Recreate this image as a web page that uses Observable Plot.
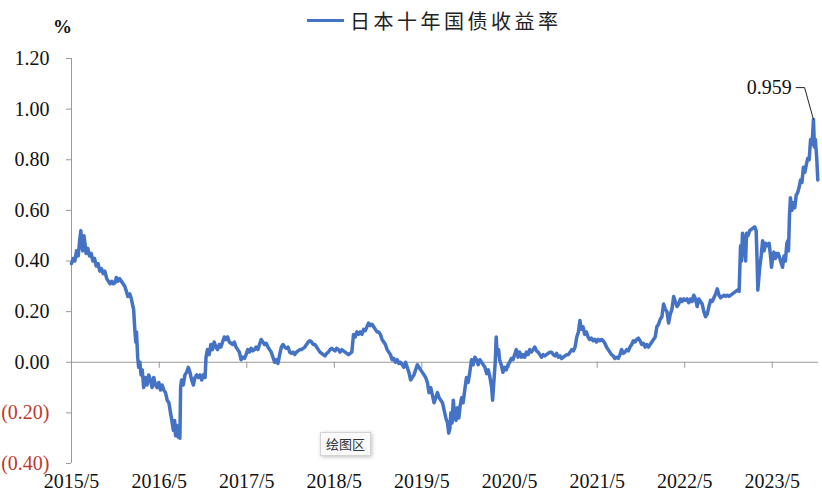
<!DOCTYPE html>
<html><head><meta charset="utf-8">
<script src="https://cdn.jsdelivr.net/npm/d3@7"></script>
<script src="https://cdn.jsdelivr.net/npm/@observablehq/plot@0.6"></script>
<style>
body{margin:0;background:#fff;}
#wrap{position:relative;width:822px;height:500px;overflow:hidden;background:#fff;}
#wrap svg{position:absolute;left:0;top:0;}
.legend{position:absolute;left:307px;top:5px;height:30px;display:flex;align-items:center;font-family:"Noto Sans CJK SC";font-size:20px;letter-spacing:3.5px;color:#222;white-space:nowrap;}
.legend .sw{width:37px;height:3px;background:#4472c4;margin-right:6px;}
.unit{position:absolute;left:53px;top:16px;font-family:"Liberation Serif";font-weight:bold;font-size:19px;color:#111;}
.tip{position:absolute;left:320px;top:432px;width:51px;height:24px;box-sizing:border-box;background:#fafafa;border:1px solid #d4d4d4;box-shadow:1px 1px 4px rgba(0,0,0,0.25);font-family:"Noto Sans CJK SC";font-size:13px;line-height:22px;text-align:center;color:#333;}
</style>
</head><body>
<div id="wrap"></div>
<script>
const legendLabel = "日本十年国债收益率";
const unitLabel = "%";
const tipLabel = "绘图区";
const yTicks = [-0.4, -0.2, 0, 0.2, 0.4, 0.6, 0.8, 1.0, 1.2];
const xTickLabels = ["2015/5","2016/5","2017/5","2018/5","2019/5","2020/5","2021/5","2022/5","2023/5"];
const xDomain = ["2015-05-01", "2023-11-10"];
const jgb10y = [
["2015-05-01",0.39],["2015-05-08",0.41],["2015-05-15",0.40],["2015-05-22",0.44],["2015-05-29",0.42],
["2015-06-04",0.48],["2015-06-09",0.52],["2015-06-12",0.47],["2015-06-17",0.44],["2015-06-22",0.50],
["2015-06-26",0.47],["2015-07-01",0.43],["2015-07-08",0.45],["2015-07-15",0.42],["2015-07-22",0.43],
["2015-07-29",0.40],["2015-08-05",0.41],["2015-08-12",0.38],["2015-08-20",0.39],["2015-08-27",0.36],
["2015-09-03",0.37],["2015-09-10",0.35],["2015-09-17",0.36],["2015-09-25",0.33],["2015-10-02",0.32],
["2015-10-09",0.31],["2015-10-16",0.32],["2015-10-23",0.31],["2015-10-30",0.315],["2015-11-04",0.335],
["2015-11-11",0.32],["2015-11-18",0.33],["2015-11-25",0.32],["2015-12-02",0.31],["2015-12-09",0.30],
["2015-12-16",0.28],["2015-12-22",0.26],["2015-12-30",0.27],["2016-01-06",0.25],["2016-01-12",0.22],
["2016-01-15",0.21],["2016-01-20",0.13],["2016-01-24",0.08],["2016-01-27",0.12],["2016-02-01",0.02],
["2016-02-05",-0.02],["2016-02-10",0.00],["2016-02-15",-0.05],["2016-02-20",-0.03],["2016-02-26",-0.10],
["2016-03-04",-0.06],["2016-03-11",-0.09],["2016-03-18",-0.05],["2016-03-25",-0.07],["2016-04-01",-0.10],
["2016-04-08",-0.06],["2016-04-15",-0.09],["2016-04-22",-0.10],["2016-04-29",-0.08],["2016-05-06",-0.11],
["2016-05-13",-0.09],["2016-05-20",-0.11],["2016-05-27",-0.12],["2016-06-03",-0.15],["2016-06-10",-0.16],
["2016-06-17",-0.20],["2016-06-24",-0.24],["2016-06-29",-0.27],["2016-07-04",-0.23],["2016-07-08",-0.29],
["2016-07-13",-0.25],["2016-07-18",-0.295],["2016-07-22",-0.28],["2016-07-26",-0.30],["2016-07-29",-0.10],
["2016-08-02",-0.07],["2016-08-09",-0.09],["2016-08-16",-0.05],["2016-08-23",-0.04],["2016-08-30",-0.02],
["2016-09-06",-0.04],["2016-09-13",-0.07],["2016-09-20",-0.09],["2016-09-27",-0.06],["2016-10-04",-0.05],
["2016-10-11",-0.06],["2016-10-18",-0.05],["2016-10-25",-0.07],["2016-11-01",-0.05],["2016-11-08",-0.06],
["2016-11-12",0.02],["2016-11-18",0.05],["2016-11-25",0.03],["2016-12-02",0.07],["2016-12-09",0.05],
["2016-12-16",0.08],["2016-12-23",0.06],["2016-12-30",0.05],["2017-01-06",0.07],["2017-01-13",0.06],
["2017-01-20",0.08],["2017-01-27",0.10],["2017-02-03",0.09],["2017-02-10",0.10],["2017-02-17",0.08],
["2017-02-24",0.075],["2017-03-03",0.07],["2017-03-10",0.08],["2017-03-17",0.06],["2017-03-24",0.05],
["2017-03-31",0.04],["2017-04-07",0.01],["2017-04-14",0.02],["2017-04-21",0.015],["2017-04-28",0.03],
["2017-05-05",0.05],["2017-05-12",0.04],["2017-05-19",0.055],["2017-05-26",0.045],["2017-06-02",0.05],
["2017-06-09",0.06],["2017-06-16",0.05],["2017-06-23",0.07],["2017-06-30",0.09],["2017-07-07",0.08],
["2017-07-14",0.07],["2017-07-21",0.075],["2017-07-28",0.06],["2017-08-04",0.05],["2017-08-11",0.04],
["2017-08-18",0.02],["2017-08-25",0.00],["2017-09-01",0.01],["2017-09-08",-0.005],["2017-09-15",0.03],
["2017-09-22",0.06],["2017-09-29",0.07],["2017-10-06",0.06],["2017-10-13",0.055],["2017-10-20",0.06],
["2017-10-27",0.04],["2017-11-03",0.035],["2017-11-10",0.04],["2017-11-17",0.03],["2017-11-24",0.04],
["2017-12-01",0.045],["2017-12-08",0.05],["2017-12-15",0.05],["2017-12-22",0.055],["2017-12-29",0.06],
["2018-01-05",0.07],["2018-01-12",0.08],["2018-01-19",0.085],["2018-01-26",0.08],["2018-02-02",0.07],
["2018-02-09",0.07],["2018-02-16",0.06],["2018-02-23",0.05],["2018-03-02",0.04],["2018-03-09",0.035],
["2018-03-16",0.03],["2018-03-23",0.025],["2018-03-30",0.035],["2018-04-06",0.04],["2018-04-13",0.05],
["2018-04-20",0.055],["2018-04-27",0.05],["2018-05-04",0.045],["2018-05-11",0.055],["2018-05-18",0.05],
["2018-05-25",0.04],["2018-06-01",0.05],["2018-06-08",0.045],["2018-06-15",0.04],["2018-06-22",0.035],
["2018-06-29",0.03],["2018-07-06",0.035],["2018-07-13",0.04],["2018-07-20",0.11],["2018-07-27",0.10],
["2018-08-03",0.12],["2018-08-10",0.11],["2018-08-17",0.12],["2018-08-24",0.11],["2018-08-31",0.13],
["2018-09-07",0.125],["2018-09-14",0.14],["2018-09-21",0.155],["2018-09-28",0.145],["2018-10-05",0.15],
["2018-10-12",0.14],["2018-10-19",0.13],["2018-10-26",0.12],["2018-11-02",0.12],["2018-11-09",0.11],
["2018-11-16",0.09],["2018-11-23",0.08],["2018-11-30",0.07],["2018-12-07",0.05],["2018-12-14",0.04],
["2018-12-21",0.03],["2018-12-28",0.01],["2019-01-04",0.015],["2019-01-11",0.00],["2019-01-18",0.01],
["2019-01-25",-0.005],["2019-02-01",0.00],["2019-02-08",-0.01],["2019-02-15",-0.02],["2019-02-22",0.00],
["2019-03-01",-0.02],["2019-03-08",-0.04],["2019-03-15",-0.07],["2019-03-22",-0.06],["2019-03-29",-0.05],
["2019-04-05",-0.03],["2019-04-12",-0.01],["2019-04-19",-0.02],["2019-04-26",-0.03],["2019-05-03",-0.04],
["2019-05-10",-0.05],["2019-05-17",-0.06],["2019-05-24",-0.08],["2019-05-31",-0.12],["2019-06-07",-0.10],
["2019-06-14",-0.13],["2019-06-21",-0.16],["2019-06-28",-0.14],["2019-07-05",-0.12],["2019-07-12",-0.14],
["2019-07-19",-0.15],["2019-07-26",-0.16],["2019-08-02",-0.19],["2019-08-09",-0.22],["2019-08-16",-0.24],
["2019-08-21",-0.28],["2019-08-26",-0.26],["2019-08-30",-0.20],["2019-09-04",-0.24],["2019-09-09",-0.15],
["2019-09-14",-0.20],["2019-09-20",-0.23],["2019-09-26",-0.18],["2019-10-02",-0.22],["2019-10-08",-0.17],
["2019-10-14",-0.14],["2019-10-20",-0.16],["2019-10-27",-0.11],["2019-11-03",-0.06],["2019-11-10",-0.08],
["2019-11-17",-0.04],["2019-11-24",0.01],["2019-12-01",-0.01],["2019-12-08",0.02],["2019-12-15",0.01],
["2019-12-22",-0.01],["2019-12-29",0.01],["2020-01-05",0.00],["2020-01-12",-0.01],["2020-01-19",-0.02],
["2020-01-26",-0.045],["2020-02-02",-0.03],["2020-02-09",-0.06],["2020-02-16",-0.10],["2020-02-20",-0.15],
["2020-02-25",-0.08],["2020-03-02",0.00],["2020-03-06",0.10],["2020-03-10",0.03],["2020-03-16",0.05],
["2020-03-20",0.01],["2020-03-27",-0.01],["2020-04-03",-0.04],["2020-04-10",-0.02],["2020-04-17",-0.03],
["2020-04-24",-0.01],["2020-05-01",0.00],["2020-05-08",0.015],["2020-05-15",0.01],["2020-05-22",0.03],
["2020-05-29",0.05],["2020-06-05",0.02],["2020-06-12",0.04],["2020-06-19",0.02],["2020-06-26",0.03],
["2020-07-03",0.02],["2020-07-10",0.04],["2020-07-17",0.03],["2020-07-24",0.05],["2020-07-31",0.04],
["2020-08-07",0.05],["2020-08-14",0.06],["2020-08-21",0.045],["2020-08-28",0.04],["2020-09-04",0.03],
["2020-09-11",0.02],["2020-09-18",0.03],["2020-09-25",0.025],["2020-10-02",0.03],["2020-10-09",0.035],
["2020-10-16",0.04],["2020-10-23",0.04],["2020-10-30",0.03],["2020-11-06",0.025],["2020-11-13",0.035],
["2020-11-20",0.02],["2020-11-27",0.025],["2020-12-04",0.015],["2020-12-11",0.02],["2020-12-18",0.025],
["2020-12-25",0.03],["2021-01-01",0.03],["2021-01-08",0.04],["2021-01-15",0.05],["2021-01-22",0.045],
["2021-01-29",0.06],["2021-02-05",0.10],["2021-02-12",0.12],["2021-02-18",0.165],["2021-02-24",0.13],
["2021-03-03",0.14],["2021-03-10",0.11],["2021-03-17",0.12],["2021-03-24",0.10],["2021-03-31",0.09],
["2021-04-07",0.095],["2021-04-14",0.085],["2021-04-21",0.09],["2021-04-28",0.08],["2021-05-05",0.09],
["2021-05-12",0.085],["2021-05-19",0.09],["2021-05-26",0.085],["2021-06-02",0.075],["2021-06-09",0.06],
["2021-06-16",0.05],["2021-06-23",0.04],["2021-06-30",0.03],["2021-07-07",0.025],["2021-07-14",0.015],
["2021-07-21",0.02],["2021-07-28",0.015],["2021-08-04",0.03],["2021-08-11",0.05],["2021-08-18",0.035],
["2021-08-25",0.04],["2021-09-01",0.05],["2021-09-08",0.045],["2021-09-15",0.06],["2021-09-22",0.07],
["2021-09-29",0.085],["2021-10-06",0.08],["2021-10-13",0.09],["2021-10-20",0.095],["2021-10-27",0.085],
["2021-11-03",0.07],["2021-11-10",0.075],["2021-11-17",0.06],["2021-11-24",0.07],["2021-12-01",0.06],
["2021-12-08",0.07],["2021-12-15",0.08],["2021-12-22",0.09],["2021-12-29",0.10],["2022-01-05",0.14],
["2022-01-12",0.15],["2022-01-19",0.17],["2022-01-26",0.18],["2022-02-02",0.23],["2022-02-09",0.21],
["2022-02-16",0.20],["2022-02-23",0.155],["2022-03-02",0.19],["2022-03-09",0.21],["2022-03-16",0.26],
["2022-03-23",0.24],["2022-03-30",0.22],["2022-04-06",0.23],["2022-04-13",0.25],["2022-04-20",0.24],
["2022-04-27",0.25],["2022-05-04",0.245],["2022-05-11",0.25],["2022-05-18",0.235],["2022-05-25",0.25],
["2022-06-01",0.24],["2022-06-08",0.265],["2022-06-15",0.25],["2022-06-22",0.22],["2022-06-29",0.25],
["2022-07-06",0.24],["2022-07-13",0.23],["2022-07-20",0.20],["2022-07-27",0.18],["2022-08-03",0.19],
["2022-08-10",0.22],["2022-08-17",0.245],["2022-08-24",0.24],["2022-08-31",0.255],["2022-09-07",0.27],
["2022-09-14",0.29],["2022-09-21",0.265],["2022-09-28",0.255],["2022-10-05",0.26],["2022-10-12",0.265],
["2022-10-19",0.26],["2022-10-26",0.265],["2022-11-02",0.26],["2022-11-09",0.265],["2022-11-16",0.27],
["2022-11-23",0.275],["2022-11-30",0.28],["2022-12-07",0.285],["2022-12-14",0.28],["2022-12-20",0.46],
["2022-12-24",0.40],["2022-12-28",0.51],["2023-01-04",0.48],["2023-01-10",0.40],["2023-01-14",0.51],
["2023-01-20",0.50],["2023-01-27",0.52],["2023-02-03",0.525],["2023-02-10",0.53],["2023-02-17",0.535],
["2023-02-23",0.52],["2023-02-27",0.40],["2023-03-02",0.285],["2023-03-06",0.33],["2023-03-10",0.375],
["2023-03-16",0.42],["2023-03-22",0.48],["2023-03-28",0.44],["2023-04-04",0.47],["2023-04-12",0.46],
["2023-04-18",0.47],["2023-04-24",0.42],["2023-04-28",0.375],["2023-05-04",0.42],["2023-05-08",0.435],
["2023-05-14",0.41],["2023-05-20",0.43],["2023-05-26",0.43],["2023-06-02",0.41],["2023-06-08",0.39],
["2023-06-13",0.375],["2023-06-19",0.42],["2023-06-25",0.40],["2023-07-01",0.47],["2023-07-05",0.48],
["2023-07-08",0.44],["2023-07-12",0.58],["2023-07-16",0.65],["2023-07-22",0.60],["2023-07-28",0.63],
["2023-08-03",0.61],["2023-08-09",0.66],["2023-08-15",0.67],["2023-08-21",0.69],["2023-08-27",0.72],
["2023-09-02",0.71],["2023-09-08",0.77],["2023-09-14",0.75],["2023-09-20",0.78],["2023-09-26",0.805],
["2023-10-02",0.80],["2023-10-08",0.88],["2023-10-14",0.86],["2023-10-20",0.959],["2023-10-24",0.85],
["2023-10-28",0.88],["2023-11-03",0.80],["2023-11-07",0.72]
];

const parse = d3.utcParse("%Y-%m-%d");
const data = jgb10y.map(([d, v]) => ({date: parse(d), value: v}));
const xStart = parse(xDomain[0]), xEnd = parse(xDomain[1]);
const tickDates = xTickLabels.map(s => { const [y, m] = s.split("/"); return new Date(Date.UTC(+y, +m - 1, 1)); });
const peak = d3.greatest(data, d => d.value);
const elbowDate = d3.utcDay.offset(peak.date, -37);
const labelDate = d3.utcDay.offset(elbowDate, -37);
const labelY = peak.value + 0.126;
const fmt = d => d < 0 ? `(${Math.abs(d).toFixed(2)})` : d.toFixed(2);
const axisColor = "#9a9a9a";

const chart = Plot.plot({
  width: 822, height: 500,
  marginLeft: 71, marginRight: 4, marginTop: 58, marginBottom: 37,
  x: {type: "utc", domain: [xStart, xEnd], axis: null},
  y: {domain: [-0.4, 1.2], label: null},
  style: {fontFamily: "Liberation Serif", fontSize: "20px", background: "transparent", color: "#111"},
  marks: [
    Plot.ruleY([0], {stroke: axisColor, strokeWidth: 1}),
    Plot.ruleX([xStart], {y1: -0.4, y2: 1.2, stroke: axisColor}),
    Plot.axisY(yTicks, {tickSize: 5, tickFormat: () => "", label: null, stroke: axisColor}),
    Plot.ruleX(tickDates.slice(1), {x: d => d, y1: 0, y2: -0.024, stroke: axisColor}),
    Plot.text(yTicks, {y: d => d, frameAnchor: "left", dx: -22, textAnchor: "end", text: fmt,
      fill: d => d < 0 ? "#c0392b" : "#111", fontSize: 20}),
    Plot.text(tickDates, {x: d => d, frameAnchor: "bottom", dy: 24, text: (d, i) => xTickLabels[i], fill: "#111", fontSize: 20}),
    Plot.line(data, {x: "date", y: "value", stroke: "#4472c4", strokeWidth: 3.5}),
    Plot.link([peak], {x1: "date", y1: "value", x2: () => elbowDate, y2: () => labelY, stroke: "#222", strokeWidth: 1}),
    Plot.link([peak], {x1: () => elbowDate, y1: () => labelY, x2: () => labelDate, y2: () => labelY, stroke: "#222", strokeWidth: 1}),
    Plot.text([peak], {x: () => labelDate, y: () => labelY, dx: -4, textAnchor: "end", text: d => d.value.toFixed(3), fill: "#111", fontSize: 20})
  ]
});

const wrap = document.getElementById("wrap");
wrap.appendChild(chart);
const lg = document.createElement("div");
lg.className = "legend";
lg.innerHTML = `<span class="sw"></span><span>${legendLabel}</span>`;
wrap.appendChild(lg);
const un = document.createElement("div");
un.className = "unit"; un.textContent = unitLabel;
wrap.appendChild(un);
const tp = document.createElement("div");
tp.className = "tip"; tp.textContent = tipLabel;
wrap.appendChild(tp);
</script>
</body></html>
